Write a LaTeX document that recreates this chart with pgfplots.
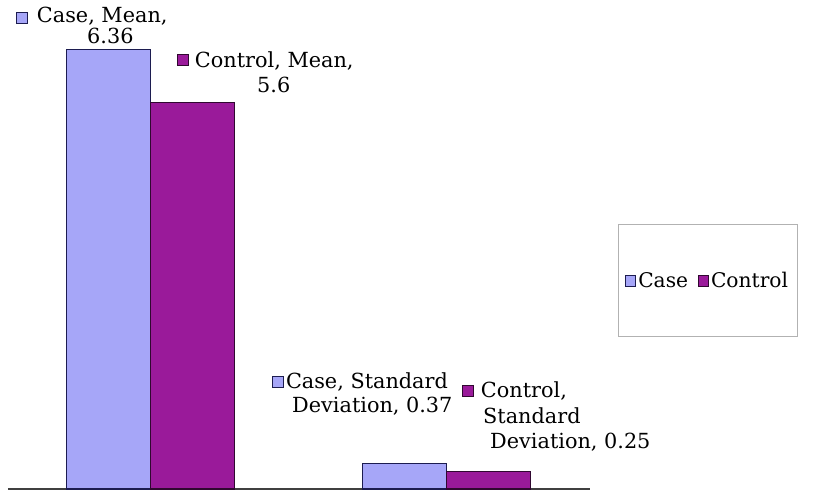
\documentclass[border=0pt]{standalone}
\usepackage{pgfplots}
\pgfplotsset{compat=1.18}
\usepackage{fontspec}
\setmainfont{DejaVu Serif}
\definecolor{casefill}{HTML}{A6A6F8}
\definecolor{caseedge}{HTML}{1C1C50}
\definecolor{ctrlfill}{HTML}{9A1A9A}
\definecolor{ctrledge}{HTML}{300830}
\newcommand{\keybox}[2]{{\setlength{\fboxsep}{0pt}\setlength{\fboxrule}{0.9pt}\fcolorbox{#2}{#1}{\rule{0pt}{10pt}\rule{10pt}{0pt}}}}
\begin{document}
\begin{tikzpicture}[font=\fontsize{20.8}{21}\selectfont]
\useasboundingbox (0,0) rectangle (815pt,504pt);
\begin{axis}[at={(8pt,15pt)}, anchor=south west, scale only axis,
  width=582pt, height=483.35pt,
  xmin=-0.4847, xmax=1.4881, ymin=0, ymax=7,
  axis x line=bottom, axis y line=none,
  x axis line style={-, line width=1.2pt, color=black!75},
  xtick=\empty, ytick=\empty,
  ybar=0pt, bar width=84pt, clip=false,
  legend style={at={(1.0481,0.4317)}, anchor=west, draw=gray!60, line width=0.8pt,
    inner xsep=7pt, inner ysep=46pt, legend columns=2,
    font=\fontsize{20.2}{21}\selectfont,
    /tikz/every even column/.append style={column sep=8pt}},
  legend image code/.code={\draw[#1,line width=0.9pt] (0pt,-5pt) rectangle (10pt,5pt);},
]
\addplot[fill=casefill, draw=caseedge, line width=1pt,
  legend image code/.code={\draw[fill=casefill, draw=caseedge, line width=0.9pt] (0pt,-6pt) rectangle (10pt,4.5pt);}]
  coordinates {(0,6.36) (1,0.37)};
\addplot[fill=ctrlfill, draw=ctrledge, line width=1pt,
  legend image code/.code={\draw[fill=ctrlfill, draw=ctrledge, line width=0.9pt] (0pt,-6pt) rectangle (10pt,4.5pt);}]
  coordinates {(0,5.6) (1,0.25)};
\legend{Case,Control}
% data labels
\node[anchor=base west, inner sep=0pt] at (axis cs:-0.4576,6.763) {\raisebox{-1pt}{\keybox{casefill}{caseedge}}\hspace{9pt}Case, Mean,};
\node[anchor=base west, inner sep=0pt] at (axis cs:-0.2169,6.459) {6.36};
\node[anchor=base west, inner sep=0pt] at (axis cs:0.0881,6.111) {\raisebox{2pt}{\keybox{ctrlfill}{ctrledge}}\hspace{6pt}Control, Mean,};
\node[anchor=base west, inner sep=0pt] at (axis cs:0.3593,5.749) {5.6};
\node[anchor=base west, inner sep=0pt] at (axis cs:0.4102,1.4627) {\raisebox{1pt}{\keybox{casefill}{caseedge}}\hspace{2pt}Case, Standard};
\node[anchor=base west, inner sep=0pt] at (axis cs:0.4780,1.1007) {Deviation, 0.37};
\node[anchor=base west, inner sep=0pt] at (axis cs:1.0542,1.3179) {\raisebox{2pt}{\keybox{ctrlfill}{ctrledge}}\hspace{7pt}Control,};
\node[anchor=base west, inner sep=0pt] at (axis cs:1.1254,0.9558) {Standard};
\node[anchor=base west, inner sep=0pt] at (axis cs:1.1492,0.5793) {Deviation, 0.25};
\end{axis}
\end{tikzpicture}
\end{document}
